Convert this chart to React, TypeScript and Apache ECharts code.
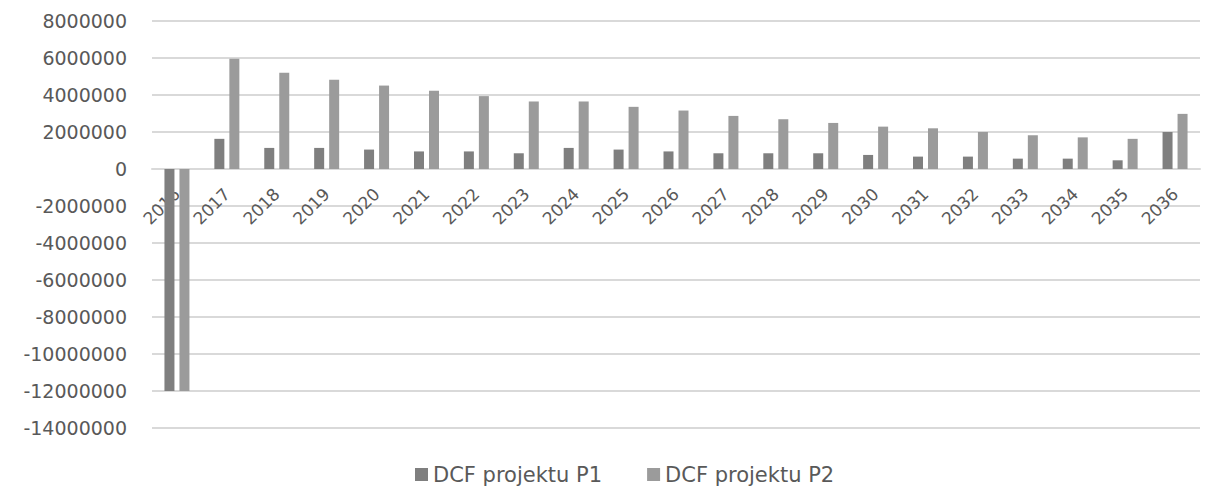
import React, { useEffect, useRef } from "react";
import * as echarts from "echarts";

// Years of the projection horizon
const years = [
  "2016", "2017", "2018", "2019", "2020", "2021", "2022", "2023", "2024", "2025",
  "2026", "2027", "2028", "2029", "2030", "2031", "2032", "2033", "2034", "2035", "2036",
];

// Discounted cash flow of project P1
const dcfP1 = [
  -12000000, 1630000, 1140000, 1140000, 1050000, 950000, 950000, 850000, 1140000, 1050000,
  950000, 850000, 850000, 850000, 760000, 670000, 670000, 560000, 560000, 470000, 2000000,
];

// Discounted cash flow of project P2
const dcfP2 = [
  -12000000, 5960000, 5200000, 4820000, 4510000, 4230000, 3940000, 3650000, 3650000, 3360000,
  3160000, 2870000, 2690000, 2490000, 2290000, 2200000, 2000000, 1820000, 1710000, 1630000, 2980000,
];

const seriesNames = ["DCF projektu P1", "DCF projektu P2"];

const yMin = -14000000;
const yMax = 8000000;
const yStep = 2000000;

const textColor = "#595959";
const gridColor = "#d9d9d9";

const chartWidth = 1196;
const chartHeight = 481;

export default function App() {
  const ref = useRef<HTMLDivElement>(null);

  useEffect(() => {
    if (!ref.current) return;
    const chart = echarts.init(ref.current, undefined, { renderer: "svg" });
    const top = 13;
    const bottom = 61;
    const plotHeight = chartHeight - top - bottom;
    // lift the category axis up to the zero line of the value axis
    const zeroOffset = -plotHeight * (0 - yMin) / (yMax - yMin);
    chart.setOption({
      animation: false,
      backgroundColor: "#ffffff",
      textStyle: { fontFamily: "DejaVu Sans" },
      grid: { left: 144, right: 4, top, bottom, containLabel: false },
      legend: {
        top: 451,
        left: 402,
        itemWidth: 13,
        itemHeight: 13,
        itemGap: 45,
        icon: "rect",
        textStyle: { color: textColor, fontSize: 21, fontFamily: "DejaVu Sans" },
        data: seriesNames,
      },
      xAxis: {
        type: "category",
        data: years,
        offset: zeroOffset,
        axisLine: { onZero: false, lineStyle: { color: gridColor, width: 2 } },
        axisTick: { show: false },
        axisLabel: {
          interval: 0,
          rotate: 45,
          margin: 22,
          color: textColor,
          fontSize: 17,
          fontFamily: "DejaVu Sans",
        },
      },
      yAxis: {
        type: "value",
        min: yMin,
        max: yMax,
        interval: yStep,
        axisLine: { show: false },
        axisTick: { show: false },
        axisLabel: {
          margin: 25,
          color: textColor,
          fontSize: 19,
          fontFamily: "DejaVu Sans",
          formatter: (v: number) => String(v),
        },
        splitLine: { lineStyle: { color: gridColor, width: 2 } },
      },
      series: [
        {
          name: seriesNames[0],
          type: "bar",
          data: dcfP1,
          barWidth: 10,
          barGap: "50%",
          itemStyle: { color: "#7f7f7f" },
        },
        {
          name: seriesNames[1],
          type: "bar",
          data: dcfP2,
          barWidth: 10,
          itemStyle: { color: "#9b9b9b" },
        },
      ],
    });
    return () => chart.dispose();
  }, []);

  return <div ref={ref} style={{ width: chartWidth, height: chartHeight }} />;
}
